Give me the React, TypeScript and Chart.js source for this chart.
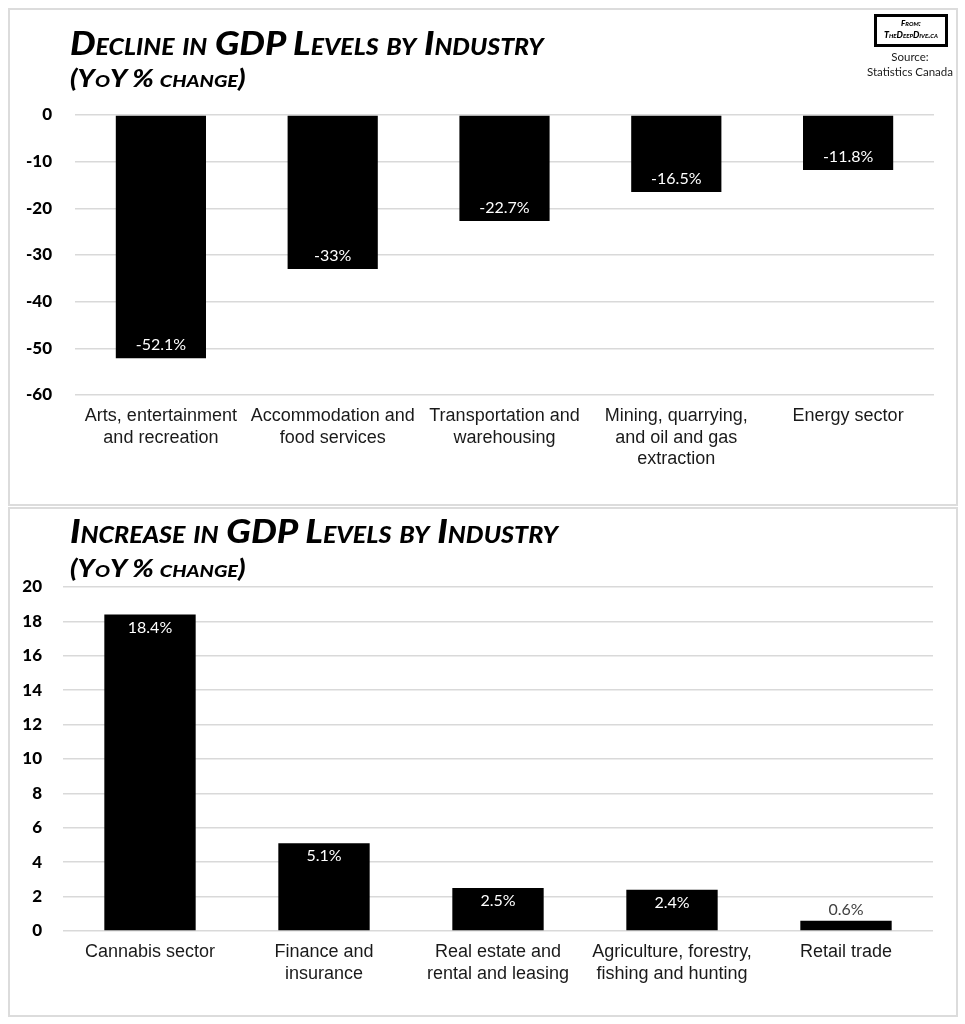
import React, { useEffect, useRef } from "react";
import { Chart, registerables } from "chart.js";

Chart.register(...registerables);

// ---------- Data ----------
const declineCategories: string[][] = [
  ["Arts, entertainment", "and recreation"],
  ["Accommodation and", "food services"],
  ["Transportation and", "warehousing"],
  ["Mining, quarrying,", "and oil and gas", "extraction"],
  ["Energy sector"],
];
const declineValues: number[] = [-52.1, -33, -22.7, -16.5, -11.8];
const declineValueLabels: string[] = ["-52.1%", "-33%", "-22.7%", "-16.5%", "-11.8%"];
const declineAxis = { min: -60, max: 0, step: 10 };

const increaseCategories: string[][] = [
  ["Cannabis sector"],
  ["Finance and", "insurance"],
  ["Real estate and", "rental and leasing"],
  ["Agriculture, forestry,", "fishing and hunting"],
  ["Retail trade"],
];
const increaseValues: number[] = [18.4, 5.1, 2.5, 2.4, 0.6];
const increaseValueLabels: string[] = ["18.4%", "5.1%", "2.5%", "2.4%", "0.6%"];
const increaseAxis = { min: 0, max: 20, step: 2 };

// ---------- Plugin for value labels ----------
const valueLabelPlugin = {
  id: "valueLabels",
  afterDatasetsDraw(chart: any, _args: any, opts: any) {
    const { ctx } = chart;
    const meta = chart.getDatasetMeta(0);
    const labels: string[] = opts.labels || [];
    ctx.save();
    ctx.font = "16px Lato";
    ctx.textAlign = "center";
    ctx.textBaseline = "middle";
    meta.data.forEach((bar: any, i: number) => {
      const { x, y, base } = bar.getProps(["x", "y", "base"], true);
      const h = Math.abs(base - y);
      const dir = y < base ? 1 : -1;
      if (h > 30) {
        ctx.fillStyle = "#ffffff";
        ctx.fillText(labels[i], x, y + dir * 13);
      } else {
        ctx.fillStyle = "#404040";
        ctx.fillText(labels[i], x, y - dir * 11);
      }
    });
    ctx.restore();
  },
};

type Layout = { top: number; right: number; yWidth: number; xHeight: number; yPad: number };

function BarChart(props: {
  width: number;
  height: number;
  categories: string[][];
  values: number[];
  valueLabels: string[];
  axis: { min: number; max: number; step: number };
  layout: Layout;
}) {
  const ref = useRef<HTMLCanvasElement>(null);
  useEffect(() => {
    const { categories, values, valueLabels, axis, layout } = props;
    const chart = new Chart(ref.current as HTMLCanvasElement, {
      type: "bar",
      data: {
        labels: categories,
        datasets: [
          {
            data: values,
            backgroundColor: "#000000",
            barPercentage: 0.525,
            categoryPercentage: 1,
          },
        ],
      },
      options: {
        responsive: false,
        animation: false,
        devicePixelRatio: 1,
        layout: { padding: { top: layout.top, right: layout.right, left: 0, bottom: 0 } },
        plugins: {
          legend: { display: false },
          tooltip: { enabled: false },
          valueLabels: { labels: valueLabels },
        } as any,
        scales: {
          x: {
            grid: { display: false, drawTicks: false },
            border: { display: false },
            ticks: {
              color: "#1a1a1a",
              font: { family: "'Liberation Sans', Arial, sans-serif", size: 18, lineHeight: 1.17 },
              padding: 11,
              maxRotation: 0,
              autoSkip: false,
            },
            afterFit: (s: any) => {
              s.height = layout.xHeight;
            },
          },
          y: {
            min: axis.min,
            max: axis.max,
            grid: { color: "#d9d9d9", lineWidth: 1.5, drawTicks: false },
            border: { display: false },
            ticks: {
              stepSize: axis.step,
              color: "#000000",
              font: { family: "Lato", size: 17, weight: "900" as any },
              padding: layout.yPad,
            },
            afterFit: (s: any) => {
              s.width = layout.yWidth;
            },
          },
        },
      },
      plugins: [valueLabelPlugin],
    });
    return () => chart.destroy();
  }, []);
  return <canvas ref={ref} width={props.width} height={props.height} style={{ display: "block" }} />;
}

const titleStyle: React.CSSProperties = {
  position: "absolute",
  fontFamily: "Lato, sans-serif",
  fontWeight: 900,
  fontStyle: "italic",
  fontVariant: "small-caps",
  whiteSpace: "nowrap",
  lineHeight: 1,
  color: "#000",
  transformOrigin: "left top",
};

export default function App() {
  return (
    <div
      style={{
        position: "absolute",
        left: 0,
        top: 0,
        width: 965,
        height: 1024,
        background: "#ffffff",
        overflow: "hidden",
      }}
    >
      {/* Top chart */}
      <div style={{ position: "absolute", left: 8, top: 8 }}>
        <BarChart
          width={949}
          height={497}
          categories={declineCategories}
          values={declineValues}
          valueLabels={declineValueLabels}
          axis={declineAxis}
          layout={{ top: 107, right: 23, yWidth: 67, xHeight: 110, yPad: 23 }}
        />
      </div>
      <div
        style={{
          position: "absolute",
          left: 8,
          top: 8,
          width: 950,
          height: 498,
          boxSizing: "border-box",
          border: "2px solid #dcdcdc",
        }}
      />
      <div style={{ ...titleStyle, left: 70, top: 27, fontSize: 32, transform: "scaleX(1.13)" }}>
        Decline in GDP Levels by Industry
      </div>
      <div style={{ ...titleStyle, left: 70, top: 66, fontSize: 24, transform: "scaleX(1.17)" }}>
        (YoY % change)
      </div>

      {/* Source box */}
      <div
        style={{
          position: "absolute",
          left: 874,
          top: 14,
          width: 74,
          height: 33,
          boxSizing: "border-box",
          border: "3px solid #000",
          textAlign: "center",
          fontFamily: "Lato, sans-serif",
          fontWeight: 900,
          fontStyle: "italic",
          fontVariant: "small-caps",
          color: "#000",
        }}
      >
        <div style={{ fontSize: 8, lineHeight: "11px", marginTop: 1 }}>From:</div>
        <div style={{ fontSize: 9, lineHeight: "12px" }}>TheDeepDive.ca</div>
      </div>
      <div
        style={{
          position: "absolute",
          left: 860,
          top: 49,
          width: 100,
          textAlign: "center",
          fontFamily: "Lato, sans-serif",
          fontSize: 11.5,
          lineHeight: "15px",
          color: "#1a1a1a",
        }}
      >
        <div>Source:</div>
        <div>Statistics Canada</div>
      </div>

      {/* Bottom chart */}
      <div style={{ position: "absolute", left: 8, top: 507 }}>
        <BarChart
          width={949}
          height={509}
          categories={increaseCategories}
          values={increaseValues}
          valueLabels={increaseValueLabels}
          axis={increaseAxis}
          layout={{ top: 80, right: 24, yWidth: 55, xHeight: 85, yPad: 21 }}
        />
      </div>
      <div
        style={{
          position: "absolute",
          left: 8,
          top: 507,
          width: 950,
          height: 510,
          boxSizing: "border-box",
          border: "2px solid #dcdcdc",
        }}
      />
      <div style={{ ...titleStyle, left: 70, top: 515, fontSize: 32, transform: "scaleX(1.14)" }}>
        Increase in GDP Levels by Industry
      </div>
      <div style={{ ...titleStyle, left: 70, top: 556, fontSize: 24, transform: "scaleX(1.17)" }}>
        (YoY % change)
      </div>
    </div>
  );
}
